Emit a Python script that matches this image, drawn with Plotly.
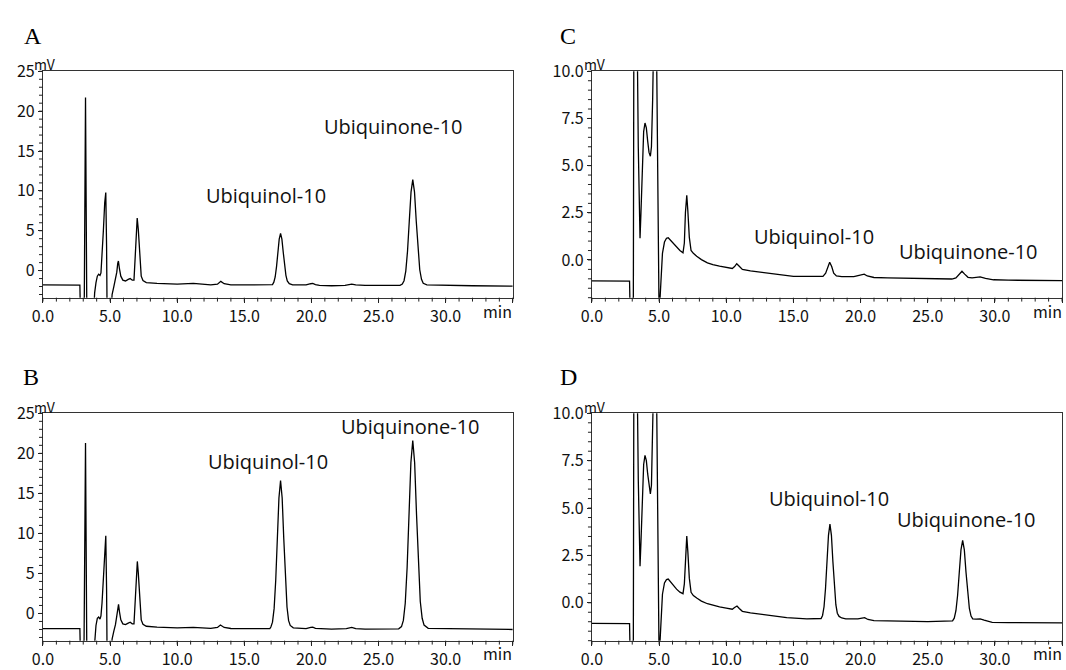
import plotly.graph_objects as go

# ---------------- data ----------------
time_a = [0.0, 1.0, 2.0, 2.75, 2.80, 3.07, 3.17, 3.27, 3.75, 3.85, 3.95, 4.05, 4.15, 4.25, 4.32,
          4.40, 4.50, 4.60, 4.68, 4.74, 4.78, 5.05, 5.15, 5.28, 5.40, 5.50, 5.57, 5.62, 5.70, 5.80,
          5.95, 6.15, 6.35, 6.50, 6.65, 6.78, 6.88, 6.96, 7.02, 7.10, 7.20, 7.32, 7.45, 7.70, 8.5,
          10.0, 11.2, 12.5, 13.0, 13.25, 13.5, 14.0, 15.5, 17.1, 17.2, 17.3, 17.4, 17.5, 17.6, 17.7,
          17.8, 17.9, 18.0, 18.1, 18.2, 18.35, 18.6, 19.6, 19.95, 20.1, 20.3, 20.6, 21.5, 22.5, 23.0,
          23.3, 24.0, 26.6, 26.77, 26.90, 27.03, 27.16, 27.29, 27.42, 27.55, 27.68, 27.81, 27.94,
          28.07, 28.20, 28.33, 28.6, 30.0, 32.0, 35.0]
signal_a = [-1.80, -1.78, -1.80, -1.82, -6, -6, 21.7, -6, -6, -2.8, -1.5, -0.7, -0.45, -0.6, -0.3,
            1.5, 5.0, 8.5, 9.8, 3.0, -6, -6, -3.0, -2.0, -1.2, -0.2, 0.9, 1.2, 0.2, -0.7,
            -1.2, -1.3, -1.1, -1.0, -1.2, -1.2, 2.0, 5.6, 6.6, 5.2, 1.8, -0.7, -1.25, -1.5, -1.6,
            -1.7, -1.6, -1.8, -1.7, -1.35, -1.65, -1.8, -1.8, -1.75, -1.45, -0.8, 0.5, 2.3, 3.95, 4.67,
            3.95, 2.3, 0.6, -0.6, -1.3, -1.65, -1.78, -1.8, -1.65, -1.6, -1.75, -1.85, -1.9, -1.85, -1.7,
            -1.8, -1.85, -1.85, -1.70, -1.27, -0.06, 2.46, 6.19, 9.84, 11.4, 9.84, 6.19, 2.6,
            0.1, -1.1, -1.6, -1.78, -1.85, -1.9, -1.95]

time_b = [0.0, 1.0, 2.0, 2.75, 2.80, 3.05, 3.17, 3.27, 3.75, 3.85, 3.95, 4.05, 4.15, 4.25, 4.32,
          4.40, 4.50, 4.60, 4.68, 4.74, 4.78, 5.05, 5.15, 5.28, 5.40, 5.50, 5.57, 5.63, 5.70, 5.80,
          5.95, 6.15, 6.35, 6.50, 6.65, 6.78, 6.88, 6.96, 7.03, 7.10, 7.20, 7.32, 7.45, 7.70, 8.5,
          10.0, 11.2, 12.5, 13.0, 13.22, 13.5, 14.0, 16.9, 16.98, 17.10, 17.22, 17.34, 17.46, 17.58,
          17.70, 17.82, 17.94, 18.06, 18.18, 18.30, 18.42, 18.65, 19.6, 19.95, 20.1, 20.3, 21.5, 22.6,
          23.0, 23.3, 24.0, 26.5, 26.71, 26.85, 26.99, 27.13, 27.27, 27.41, 27.55, 27.69, 27.83,
          27.97, 28.11, 28.25, 28.39, 28.7, 30.0, 32.0, 35.0]
signal_b = [-1.90, -1.88, -1.86, -1.90, -6, -6, 21.3, -6, -6, -3.0, -1.5, -0.6, -0.45, -0.7, -0.3,
            1.3, 4.8, 8.3, 9.7, 3.0, -6, -6, -3.2, -2.2, -1.4, -0.3, 0.8, 1.15, 0.2, -0.8,
            -1.3, -1.4, -1.2, -1.1, -1.3, -1.3, 1.8, 5.5, 6.5, 5.1, 1.6, -0.8, -1.35, -1.6, -1.7,
            -1.8, -1.75, -1.85, -1.75, -1.45, -1.75, -1.88, -1.9, -1.7, -1.09, 0.6, 4.11, 9.33, 14.42,
            16.6, 14.42, 9.33, 4.11, 0.8, -0.9, -1.5, -1.8, -1.9, -1.75, -1.7, -1.85, -1.95, -1.9,
            -1.75, -1.9, -1.95, -1.92, -1.64, -0.87, 1.27, 5.74, 12.36, 18.83, 21.6, 18.83, 12.36,
            5.9, 1.5, -0.6, -1.45, -1.85, -1.9, -1.95, -2.0]

time_c = [0.0, 1.0, 2.0, 2.80, 2.85, 3.08, 3.12, 3.38, 3.45, 3.52, 3.58, 3.65, 3.75, 3.85, 3.95,
          4.05, 4.15, 4.25, 4.35, 4.43, 4.52, 4.60, 4.80, 4.88, 4.95, 5.00, 5.05, 5.15, 5.25, 5.40,
          5.55, 5.68, 5.85, 6.05, 6.30, 6.55, 6.78, 6.88, 6.96, 7.06, 7.14, 7.25, 7.38, 7.55, 7.80,
          8.15, 8.6, 9.0, 9.5, 10.0, 10.45, 10.62, 10.78, 10.95, 11.2, 11.8, 12.5, 13.5, 14.5, 15.0,
          16.0, 17.2, 17.4, 17.55, 17.7, 17.85, 18.0, 18.2, 18.6, 19.5, 20.0, 20.27, 20.5, 21.0,
          22.0, 23.5, 25.0, 26.8, 27.1, 27.35, 27.55, 27.75, 28.0, 28.3, 28.6, 28.9, 29.3, 29.9,
          31.0, 33.0, 35.0]
signal_c = [-1.11, -1.10, -1.11, -1.12, -3, -3, 12, 11, 6.0, 2.0, 1.15, 2.5, 5.2, 6.8, 7.26,
            7.0, 6.3, 5.7, 5.5, 6.0, 8.5, 12, 12, 4, -1.5, -3, -2.3, -0.6, 0.35, 0.95,
            1.15, 1.18, 1.05, 0.85, 0.65, 0.5, 0.38, 0.9, 2.5, 3.43, 2.6, 1.2, 0.5, 0.35, 0.2,
            0.02, -0.15, -0.25, -0.33, -0.38, -0.45, -0.35, -0.2, -0.32, -0.5, -0.58, -0.65, -0.74, -0.82, -0.87,
            -0.87, -0.87, -0.7, -0.35, -0.12, -0.35, -0.7, -0.85, -0.88, -0.88, -0.82, -0.75, -0.85, -0.93,
            -0.95, -0.98, -1.0, -1.01, -0.95, -0.75, -0.6, -0.75, -0.92, -0.95, -0.93, -0.9, -0.98, -1.05,
            -1.07, -1.08, -1.1]

time_d = [0.0, 1.0, 2.0, 2.80, 2.85, 3.08, 3.12, 3.38, 3.45, 3.52, 3.58, 3.65, 3.75, 3.85, 3.95,
          4.05, 4.15, 4.25, 4.35, 4.43, 4.52, 4.60, 4.80, 4.88, 4.95, 5.00, 5.05, 5.15, 5.25, 5.40,
          5.55, 5.68, 5.85, 6.05, 6.30, 6.55, 6.78, 6.88, 6.96, 7.06, 7.14, 7.25, 7.38, 7.55, 7.80,
          8.15, 8.6, 9.0, 9.5, 10.0, 10.45, 10.62, 10.80, 10.97, 11.2, 11.8, 12.5, 13.4, 14.5, 16.0,
          17.06, 17.17, 17.28, 17.39, 17.50, 17.61, 17.72, 17.83, 17.94, 18.05, 18.16, 18.27, 18.40,
          18.6, 18.9, 19.8, 20.1, 20.3, 20.55, 21.0, 23.0, 25.0, 26.85, 26.975, 27.1, 27.225, 27.35,
          27.475, 27.6, 27.725, 27.85, 27.975, 28.1, 28.225, 28.35, 28.6, 28.9, 29.2, 29.8, 31.0, 35.0]
signal_d = [-1.09, -1.09, -1.10, -1.10, -3, -3, 12, 11, 6.5, 2.8, 1.93, 3.2, 5.8, 7.3, 7.78,
            7.5, 6.8, 6.1, 5.74, 6.2, 8.7, 12, 12, 4, -1.5, -3, -2.3, -0.5, 0.45, 1.05,
            1.22, 1.25, 1.1, 0.9, 0.72, 0.56, 0.48, 1.0, 2.6, 3.52, 2.7, 1.3, 0.55, 0.38, 0.25,
            0.09, -0.05, -0.14, -0.22, -0.28, -0.34, -0.25, -0.17, -0.3, -0.45, -0.53, -0.6, -0.68, -0.78, -0.85,
            -0.83, -0.67, -0.21, 0.75, 2.17, 3.56, 4.15, 3.56, 2.17, 0.8, -0.1, -0.55, -0.72,
            -0.8, -0.85, -0.85, -0.82, -0.78, -0.88, -0.94, -0.97, -0.99, -0.95, -0.81, -0.42, 0.40, 1.61,
            2.79, 3.3, 2.79, 1.61, 0.45, -0.3, -0.7, -0.85, -0.86, -0.85, -0.92, -1.03, -1.05, -1.06]

x_tick_vals = [0, 5, 10, 15, 20, 25, 30, 35]
x_tick_text = ["0.0", "5.0", "10.0", "15.0", "20.0", "25.0", "30.0", ""]
x_minor_step = 1
y_tick_vals_ab = [0, 5, 10, 15, 20, 25]
y_tick_text_ab = ["0", "5", "10", "15", "20", "25"]
y_minor_step_ab = 1
y_tick_vals_cd = [0, 2.5, 5, 7.5, 10]
y_tick_text_cd = ["0.0", "2.5", "5.0", "7.5", "10.0"]
y_minor_step_cd = 0.5
panel_letters = ["A", "B", "C", "D"]
peak_names = ["Ubiquinol-10", "Ubiquinone-10"]

# ---------------- figure ----------------
W, H = 1066, 670
TICKFONT = dict(family="Noto Sans CJK JP", size=16, color="#111")
TICKCOL = "#222222"
TICKLEN = 4
X_RANGE = [0, 35]
Y_RANGE_AB = [-3.4, 25]
Y_RANGE_CD = [-2, 10]

def px_x(p):
    return p / W

def px_y(p):
    return 1 - p / H

xdom_left = [px_x(32.3), px_x(507)]
xdom_right = [px_x(587), px_x(1062)]
ydom_top = [px_y(293), px_y(60)]
ydom_bot = [px_y(646), px_y(412)]

fig = go.Figure()
traces = [(time_a, signal_a, "x", "y"), (time_b, signal_b, "x2", "y2"),
          (time_c, signal_c, "x3", "y3"), (time_d, signal_d, "x4", "y4")]
for t, s, xa, ya in traces:
    fig.add_trace(go.Scatter(x=t, y=s, xaxis=xa, yaxis=ya, mode="lines",
                             line=dict(color="black", width=1.3), showlegend=False,
                             hoverinfo="skip"))

def xaxis(dom, anchor):
    return dict(domain=dom, anchor=anchor, range=X_RANGE, tickmode="array",
                tickvals=x_tick_vals, ticktext=x_tick_text, ticks="outside", ticklen=TICKLEN,
                tickcolor=TICKCOL, tickwidth=1, showline=True, linecolor="#333", linewidth=1.2,
                mirror=True, showgrid=False, zeroline=False, tickfont=TICKFONT)

def yaxis(dom, anchor, rng, vals, text):
    return dict(domain=dom, anchor=anchor, range=rng, tickmode="array", tickvals=vals,
                ticktext=text, ticks="outside", ticklen=TICKLEN, tickcolor=TICKCOL, tickwidth=1,
                showline=True, linecolor="#333", linewidth=1.2, mirror=True, showgrid=False,
                zeroline=False, tickfont=TICKFONT)

fig.update_layout(
    width=W, height=H, margin=dict(l=0, r=0, t=0, b=0),
    paper_bgcolor="white", plot_bgcolor="white", showlegend=False,
    xaxis=xaxis(xdom_left, "y"), yaxis=yaxis(ydom_top, "x", Y_RANGE_AB, y_tick_vals_ab, y_tick_text_ab),
    xaxis2=xaxis(xdom_left, "y2"), yaxis2=yaxis(ydom_bot, "x2", Y_RANGE_AB, y_tick_vals_ab, y_tick_text_ab),
    xaxis3=xaxis(xdom_right, "y3"), yaxis3=yaxis(ydom_top, "x3", Y_RANGE_CD, y_tick_vals_cd, y_tick_text_cd),
    xaxis4=xaxis(xdom_right, "y4"), yaxis4=yaxis(ydom_bot, "x4", Y_RANGE_CD, y_tick_vals_cd, y_tick_text_cd),
)

# ---- explicit tick marks (major + minor) drawn as shapes on each axis ----
shapes = []
panels = [("x", "y", xdom_left, ydom_top, Y_RANGE_AB, y_minor_step_ab),
          ("x2", "y2", xdom_left, ydom_bot, Y_RANGE_AB, y_minor_step_ab),
          ("x3", "y3", xdom_right, ydom_top, Y_RANGE_CD, y_minor_step_cd),
          ("x4", "y4", xdom_right, ydom_bot, Y_RANGE_CD, y_minor_step_cd)]
line_style = dict(color=TICKCOL, width=1)
for xa, ya, xd, yd, yr, ystep in panels:
    # x ticks every minor step along the bottom axis
    n_x = int(round((X_RANGE[1] - X_RANGE[0]) / x_minor_step))
    for i in range(n_x + 1):
        v = X_RANGE[0] + i * x_minor_step
        f = (v - X_RANGE[0]) / (X_RANGE[1] - X_RANGE[0])
        shapes.append(dict(type="line", xref=xa + " domain", yref="paper",
                           x0=f, x1=f, y0=yd[0], y1=yd[0] - TICKLEN / H,
                           line=line_style, layer="above"))
    # y ticks every minor step along the left axis
    start = int(-(-yr[0] // ystep))
    v = start * ystep
    while v <= yr[1] + 1e-9:
        f = (v - yr[0]) / (yr[1] - yr[0])
        shapes.append(dict(type="line", xref="paper", yref=ya + " domain",
                           x0=xd[0], x1=xd[0] - TICKLEN / W, y0=f, y1=f,
                           line=line_style, layer="above"))
        v += ystep
fig.update_layout(shapes=shapes)

ann = []
for letter, (cx, cy) in zip(panel_letters, [(22, 24), (20, 375), (563, 24), (563, 375)]):
    ann.append(dict(text=letter, x=px_x(cx), y=px_y(cy), xref="paper", yref="paper",
                    showarrow=False, xanchor="center", yanchor="middle",
                    font=dict(family="Liberation Serif", size=24, color="black")))
for (cx, cy) in [(34, 53), (34, 405), (590, 53), (590, 405)]:
    ann.append(dict(text="mV", x=px_x(cx), y=px_y(cy), xref="paper", yref="paper",
                    showarrow=False, xanchor="center", yanchor="middle",
                    font=dict(family="Noto Sans CJK JP", size=14, color="#111")))
for (rx, cy) in [(508, 307), (508, 659), (1064, 307), (1064, 659)]:
    ann.append(dict(text="min", x=px_x(rx), y=px_y(cy), xref="paper", yref="paper",
                    showarrow=False, xanchor="right", yanchor="middle",
                    font=dict(family="Noto Sans CJK JP", size=16, color="#111")))
label_pos = [
    [(258, 188), (386, 117)],
    [(260, 462), (404, 426)],
    [(811, 230), (967, 245)],
    [(827, 500), (965, 521)],
]
for pos in label_pos:
    for name, (cx, cy) in zip(peak_names, pos):
        ann.append(dict(text=name, x=px_x(cx), y=px_y(cy), xref="paper", yref="paper",
                        showarrow=False, xanchor="center", yanchor="middle",
                        font=dict(family="Open Sans", size=20, color="#111")))
fig.update_layout(annotations=ann)

fig.write_html("out.html")
